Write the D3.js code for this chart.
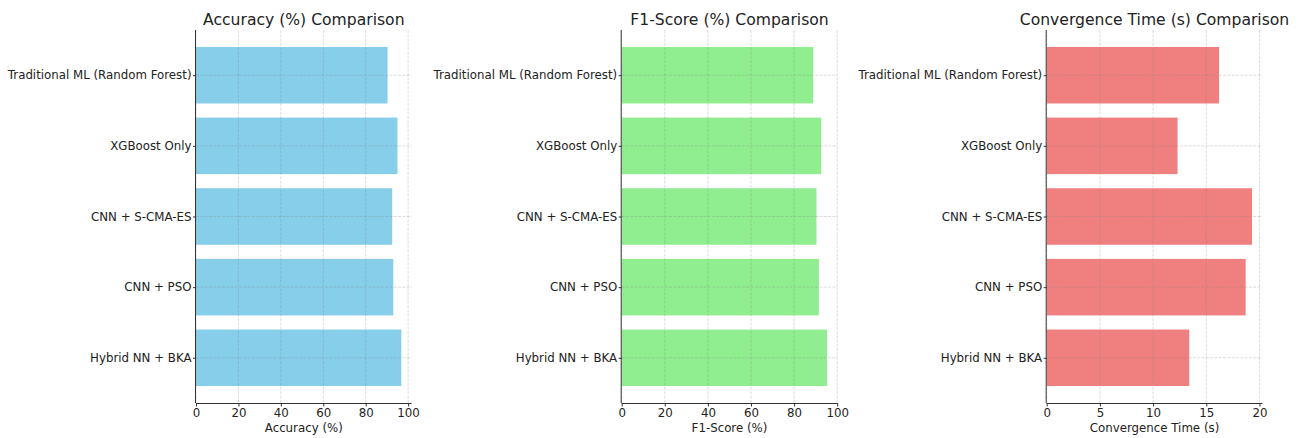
<!DOCTYPE html>
<html>
<head>
<meta charset="utf-8">
<script src="https://cdn.jsdelivr.net/npm/d3@7"></script>
<style>
  body { margin: 0; background: #fff; }
  text { font-family: "DejaVu Sans", sans-serif; fill: #222; }
</style>
</head>
<body>
<div id="chart"></div>
<script>
// categories, top to bottom
const models = ["Traditional ML (Random Forest)", "XGBoost Only", "CNN + S-CMA-ES", "CNN + PSO", "Hybrid NN + BKA"];

const accuracy = [90.3, 95.0, 92.5, 93.0, 96.8];
const f1Score = [88.9, 92.6, 90.4, 91.5, 95.3];
const convTime = [16.2, 12.3, 19.3, 18.7, 13.4];

const accTicks = [0, 20, 40, 60, 80, 100];
const f1Ticks = [0, 20, 40, 60, 80, 100];
const timeTicks = [0, 5, 10, 15, 20];

const panels = [
    {title: "Accuracy (%) Comparison", label: "Accuracy (%)", values: accuracy, ticks: accTicks, color: "#87ceeb", left: 196},
    {title: "F1-Score (%) Comparison", label: "F1-Score (%)", values: f1Score, ticks: f1Ticks, color: "#90ee90", left: 621.7},
    {title: "Convergence Time (s) Comparison", label: "Convergence Time (s)", values: convTime, ticks: timeTicks, color: "#f08080", left: 1046.7}
];

const W = 1301, H = 438;
const plotTop = 30, plotH = 373, plotW = 215.6;

const svg = d3.select("#chart").append("svg")
    .attr("width", W)
    .attr("height", H);

panels.forEach(function(p) {
    let g = svg.append("g")
        .attr("transform", "translate(" + p.left + "," + plotTop + ")");

    // matplotlib style 5% margin on the data max
    let x = d3.scaleLinear()
        .domain([0, d3.max(p.values) * 1.05])
        .range([0, plotW]);

    let y = d3.scaleLinear()
        .domain([-0.64, models.length - 1 + 0.64])
        .range([0, plotH]);

    let barH = y(0.8) - y(0);

    // bars
    g.selectAll(".bar")
        .data(p.values)
        .enter().append("rect")
        .attr("class", "bar")
        .attr("x", x(0))
        .attr("y", (d, i) => y(i - 0.4))
        .attr("width", d => x(d) - x(0))
        .attr("height", barH)
        .attr("fill", p.color);

    // grid lines (drawn above bars, like matplotlib)
    g.selectAll(".vgrid")
        .data(p.ticks)
        .enter().append("line")
        .attr("x1", d => x(d)).attr("x2", d => x(d))
        .attr("y1", 0).attr("y2", plotH)
        .attr("stroke", "#808080")
        .attr("stroke-opacity", 0.35)
        .attr("stroke-width", 0.8)
        .attr("stroke-dasharray", "3,1.3");

    g.selectAll(".hgrid")
        .data(models)
        .enter().append("line")
        .attr("x1", 0).attr("x2", plotW)
        .attr("y1", (d, i) => y(i)).attr("y2", (d, i) => y(i))
        .attr("stroke", "#808080")
        .attr("stroke-opacity", 0.35)
        .attr("stroke-width", 0.8)
        .attr("stroke-dasharray", "3,1.3");

    // x axis
    let xAxis = d3.axisBottom(x)
        .tickValues(p.ticks)
        .tickSize(3.5)
        .tickPadding(2.5)
        .tickFormat(d3.format("d"));

    let xa = g.append("g")
        .attr("transform", "translate(0," + plotH + ")")
        .call(xAxis);
    xa.select(".domain").attr("d", "M0,0.5H" + plotW).attr("stroke", "#333");
    xa.selectAll(".tick line").attr("stroke", "#333");
    xa.selectAll("text").style("font-size", "11.8px").attr("fill", "#222");

    // y axis
    let ya = g.append("g")
        .call(d3.axisLeft(y).tickValues(d3.range(models.length)).tickSize(3).tickPadding(1.5)
            .tickFormat(i => models[i]));
    ya.select(".domain").attr("d", "M-0.5,0V" + plotH).attr("stroke", "#333");
    ya.selectAll(".tick line").attr("stroke", "#333");
    ya.selectAll("text").style("font-size", "11.8px").attr("fill", "#222");

    // title and axis label
    g.append("text")
        .attr("x", plotW / 2)
        .attr("y", -5)
        .attr("text-anchor", "middle")
        .style("font-size", "15.6px")
        .text(p.title);

    g.append("text")
        .attr("x", plotW / 2)
        .attr("y", plotH + 29)
        .attr("text-anchor", "middle")
        .style("font-size", "11.8px")
        .text(p.label);
});
</script>
</body>
</html>
